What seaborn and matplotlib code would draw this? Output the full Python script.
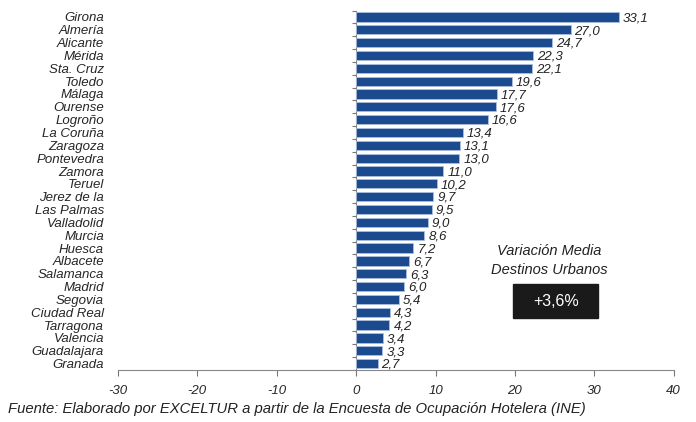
import matplotlib
matplotlib.use("Agg")
import matplotlib.pyplot as plt
from matplotlib.patches import Rectangle
import seaborn as sns
import pandas as pd
import numpy as np

ciudades = ["Girona", "Almería", "Alicante", "Mérida", "Sta. Cruz", "Toledo", "Málaga",
            "Ourense", "Logroño", "La Coruña", "Zaragoza", "Pontevedra", "Zamora", "Teruel",
            "Jerez de la", "Las Palmas", "Valladolid", "Murcia", "Huesca", "Albacete",
            "Salamanca", "Madrid", "Segovia", "Ciudad Real", "Tarragona", "Valencia",
            "Guadalajara", "Granada"]
variacion = [33.1, 27.0, 24.7, 22.3, 22.1, 19.6, 17.7, 17.6, 16.6, 13.4, 13.1, 13.0, 11.0,
             10.2, 9.7, 9.5, 9.0, 8.6, 7.2, 6.7, 6.3, 6.0, 5.4, 4.3, 4.2, 3.4, 3.3, 2.7]
ticks_x = [-30, -20, -10, 0, 10, 20, 30, 40]
media_texto = ["Variación Media", "Destinos Urbanos"]
media_valor = "+3,6%"
fuente = "Fuente: Elaborado por EXCELTUR a partir de la Encuesta de Ocupación Hotelera (INE)"

sns.set_style("white")
plt.rcParams["font.family"] = ["Liberation Sans", "DejaVu Sans"]
plt.rcParams["font.style"] = "italic"

df = pd.DataFrame({"ciudad": ciudades, "valor": variacion})

fig = plt.figure(figsize=(6.96, 4.22), dpi=100)
ax = fig.add_axes([0.1695, 0.1232, 0.7985, 0.8518])

sns.barplot(data=df, x="valor", y="ciudad", orient="h", color="#1b4b8e",
            saturation=1, width=0.72, edgecolor="#a9bfdc", linewidth=0.6, ax=ax)

ax.set_xlim(-30, 40)
ax.set_ylim(len(ciudades) - 0.5, -0.5)
ax.set_xticks(ticks_x)
ax.set_xticklabels([str(t) for t in ticks_x], fontsize=9.5, style="italic")
ax.set_xlabel("")
ax.set_ylabel("")
ax.tick_params(axis="x", direction="out", length=4, width=0.8, color="#777777",
               pad=7, bottom=True)
ax.tick_params(axis="y", length=0, pad=10)
for lbl in ax.get_yticklabels():
    lbl.set_fontsize(9.5)
    lbl.set_fontstyle("italic")

for s in ["top", "right", "left"]:
    ax.spines[s].set_visible(False)
ax.spines["bottom"].set_color("#888888")
ax.spines["bottom"].set_linewidth(0.8)

# vertical zero axis with category boundary ticks
zero_pos = (0 - ticks_x[0]) / (ticks_x[-1] - ticks_x[0])
sec = ax.secondary_yaxis(zero_pos)
sec.set_yticks(np.arange(-0.5, len(ciudades) + 0.5, 1))
sec.set_yticklabels([])
sec.tick_params(direction="out", length=3, width=0.8, color="#777777")
sec.spines["left"].set_color("#888888")
sec.spines["left"].set_linewidth(0.8)

for i, v in enumerate(variacion):
    ax.text(v + 0.5, i + 0.1, f"{v:.1f}".replace(".", ","), va="center", ha="left",
            fontsize=9.5, style="italic", color="#222222")

# average change annotation
ax.text(24.3, 18.2, media_texto[0], ha="center", va="center", fontsize=10.5,
        style="italic", color="#222222")
ax.text(24.3, 19.7, media_texto[1], ha="center", va="center", fontsize=10.5,
        style="italic", color="#222222")
ax.add_patch(Rectangle((19.8, 20.8), 10.7, 2.65, facecolor="#1a1a1a",
                       edgecolor="#1a1a1a", zorder=3))
ax.text(25.15, 22.15, media_valor, ha="center", va="center", fontsize=11.5,
        style="normal", color="white", zorder=4)

fig.text(8 / 696, 1 - 409 / 422, fuente, ha="left", va="center", fontsize=10.7,
         style="italic", color="#222222")

fig.savefig("out.png", dpi=100)
